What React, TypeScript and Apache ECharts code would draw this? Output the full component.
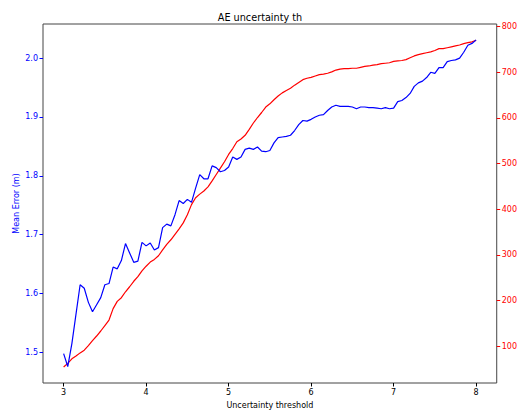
import React, { useEffect, useRef } from "react";
import * as echarts from "echarts";

const thresholds = [
  3.0, 3.05, 3.1, 3.15, 3.2, 3.25, 3.3, 3.35, 3.4, 3.45,
  3.5, 3.55, 3.6, 3.65, 3.7, 3.75, 3.8, 3.85, 3.9, 3.95,
  4.0, 4.05, 4.1, 4.15, 4.2, 4.25, 4.3, 4.35, 4.4, 4.45,
  4.5, 4.55, 4.6, 4.65, 4.7, 4.75, 4.8, 4.85, 4.9, 4.95,
  5.0, 5.05, 5.1, 5.15, 5.2, 5.25, 5.3, 5.35, 5.4, 5.45,
  5.5, 5.55, 5.6, 5.65, 5.7, 5.75, 5.8, 5.85, 5.9, 5.95,
  6.0, 6.05, 6.1, 6.15, 6.2, 6.25, 6.3, 6.35, 6.4, 6.45,
  6.5, 6.55, 6.6, 6.65, 6.7, 6.75, 6.8, 6.85, 6.9, 6.95,
  7.0, 7.05, 7.1, 7.15, 7.2, 7.25, 7.3, 7.35, 7.4, 7.45,
  7.5, 7.55, 7.6, 7.65, 7.7, 7.75, 7.8, 7.85, 7.9, 7.95,
  8.0,
];

const meanError = [
  1.498, 1.476, 1.515, 1.565, 1.615, 1.609, 1.585, 1.569, 1.581, 1.593,
  1.615, 1.617, 1.645, 1.642, 1.656, 1.685, 1.669, 1.653, 1.655, 1.687,
  1.681, 1.686, 1.674, 1.678, 1.712, 1.718, 1.715, 1.734, 1.758, 1.753,
  1.76, 1.755, 1.779, 1.802, 1.795, 1.795, 1.817, 1.814, 1.807, 1.809,
  1.815, 1.832, 1.828, 1.832, 1.845, 1.847, 1.845, 1.849, 1.842, 1.841,
  1.843, 1.856, 1.865, 1.866, 1.867, 1.869, 1.877, 1.887, 1.894, 1.893,
  1.896, 1.9, 1.903, 1.904, 1.911, 1.917, 1.92, 1.918, 1.918, 1.918,
  1.917, 1.914, 1.917, 1.917, 1.916, 1.916, 1.915, 1.914, 1.916, 1.914,
  1.915, 1.926, 1.928, 1.933, 1.94, 1.952, 1.958, 1.961, 1.967, 1.976,
  1.974, 1.984, 1.984, 1.994, 1.996, 1.997, 2.0, 2.01, 2.022, 2.025,
  2.031,
];

const counts = [
  54, 62, 72, 78, 85, 91, 101, 112, 122, 133,
  145, 157, 182, 198, 206, 219, 230, 242, 252, 265,
  275, 284, 290, 298, 311, 323, 333, 345, 357, 370,
  388, 410, 425, 433, 440, 449, 462, 476, 490, 504,
  520, 533, 548, 554, 562, 575, 589, 601, 612, 624,
  631, 640, 648, 655, 660, 665, 672, 678, 684, 687,
  689, 692, 695, 696, 698, 701, 705, 707, 708, 708,
  709, 709, 711, 713, 714, 716, 717, 719, 720, 721,
  724, 725, 726, 728, 732, 736, 739, 741, 743, 745,
  748, 752, 752, 754, 756, 758, 760, 763, 765, 767,
  770,
];

const xTicks = [3, 4, 5, 6, 7, 8];
const leftTicks = [1.5, 1.6, 1.7, 1.8, 1.9, 2.0];
const rightTicks = [100, 200, 300, 400, 500, 600, 700, 800];

const FONT = "DejaVu Sans";

export default function App() {
  const ref = useRef<HTMLDivElement>(null);
  useEffect(() => {
    if (!ref.current) return;
    const chart = echarts.init(ref.current, null, { renderer: "svg" });
    chart.setOption({
      animation: false,
      textStyle: { fontFamily: FONT },
      title: {
        text: "AE uncertainty th",
        left: "center",
        top: 7,
        textStyle: { fontFamily: FONT, fontSize: 9.7, fontWeight: "normal", color: "#000" },
      },
      grid: {
        left: 43,
        right: 22,
        top: 24,
        bottom: 27,
        show: true,
        borderColor: "#444",
        borderWidth: 1,
        backgroundColor: "transparent",
      },
      xAxis: {
        type: "value",
        min: 2.75,
        max: 8.25,
        axisLine: { show: false },
        splitLine: { show: false },
        axisTick: { show: true, length: 3.5, customValues: xTicks, lineStyle: { color: "#000" } },
        axisLabel: {
          customValues: xTicks,
          color: "#000",
          fontSize: 8,
          margin: 5,
          fontFamily: FONT,
          formatter: (v: number) => String(v),
        },
        name: "Uncertainty threshold",
        nameLocation: "middle",
        nameGap: 18,
        nameMoveOverlap: false,
        nameTextStyle: { color: "#000", fontSize: 8, fontFamily: FONT },
      },
      yAxis: [
        {
          type: "value",
          position: "left",
          min: 1.448,
          max: 2.058,
          axisLine: { show: false },
          splitLine: { show: false },
          axisTick: { show: true, length: 3.5, customValues: leftTicks, lineStyle: { color: "#0000ff" } },
          axisLabel: {
            customValues: leftTicks,
            color: "#0000ff",
            fontSize: 8,
            margin: 5,
            fontFamily: FONT,
            formatter: (v: number) => v.toFixed(1),
          },
          name: "Mean Error (m)",
          nameLocation: "middle",
          nameGap: 23,
          nameMoveOverlap: false,
          nameTextStyle: { color: "#0000ff", fontSize: 8, fontFamily: FONT },
        },
        {
          type: "value",
          position: "right",
          min: 19,
          max: 806,
          axisLine: { show: false },
          splitLine: { show: false },
          axisTick: { show: true, length: 3.5, customValues: rightTicks, lineStyle: { color: "#ff0000" } },
          axisLabel: {
            customValues: rightTicks,
            color: "#ff0000",
            fontSize: 8,
            margin: 5,
            fontFamily: FONT,
          },
        },
      ],
      series: [
        {
          type: "line",
          yAxisIndex: 0,
          data: thresholds.map((t, i) => [t, meanError[i]]),
          showSymbol: false,
          symbol: "none",
          lineStyle: { color: "#0000ff", width: 1.2 },
          z: 3,
        },
        {
          type: "line",
          yAxisIndex: 1,
          data: thresholds.map((t, i) => [t, counts[i]]),
          showSymbol: false,
          symbol: "none",
          lineStyle: { color: "#ff0000", width: 1.2 },
          z: 2,
        },
      ],
    });
    return () => chart.dispose();
  }, []);
  return (
    <div
      ref={ref}
      style={{ position: "fixed", left: 0, top: 0, width: 520, height: 414, background: "#fff" }}
    />
  );
}
